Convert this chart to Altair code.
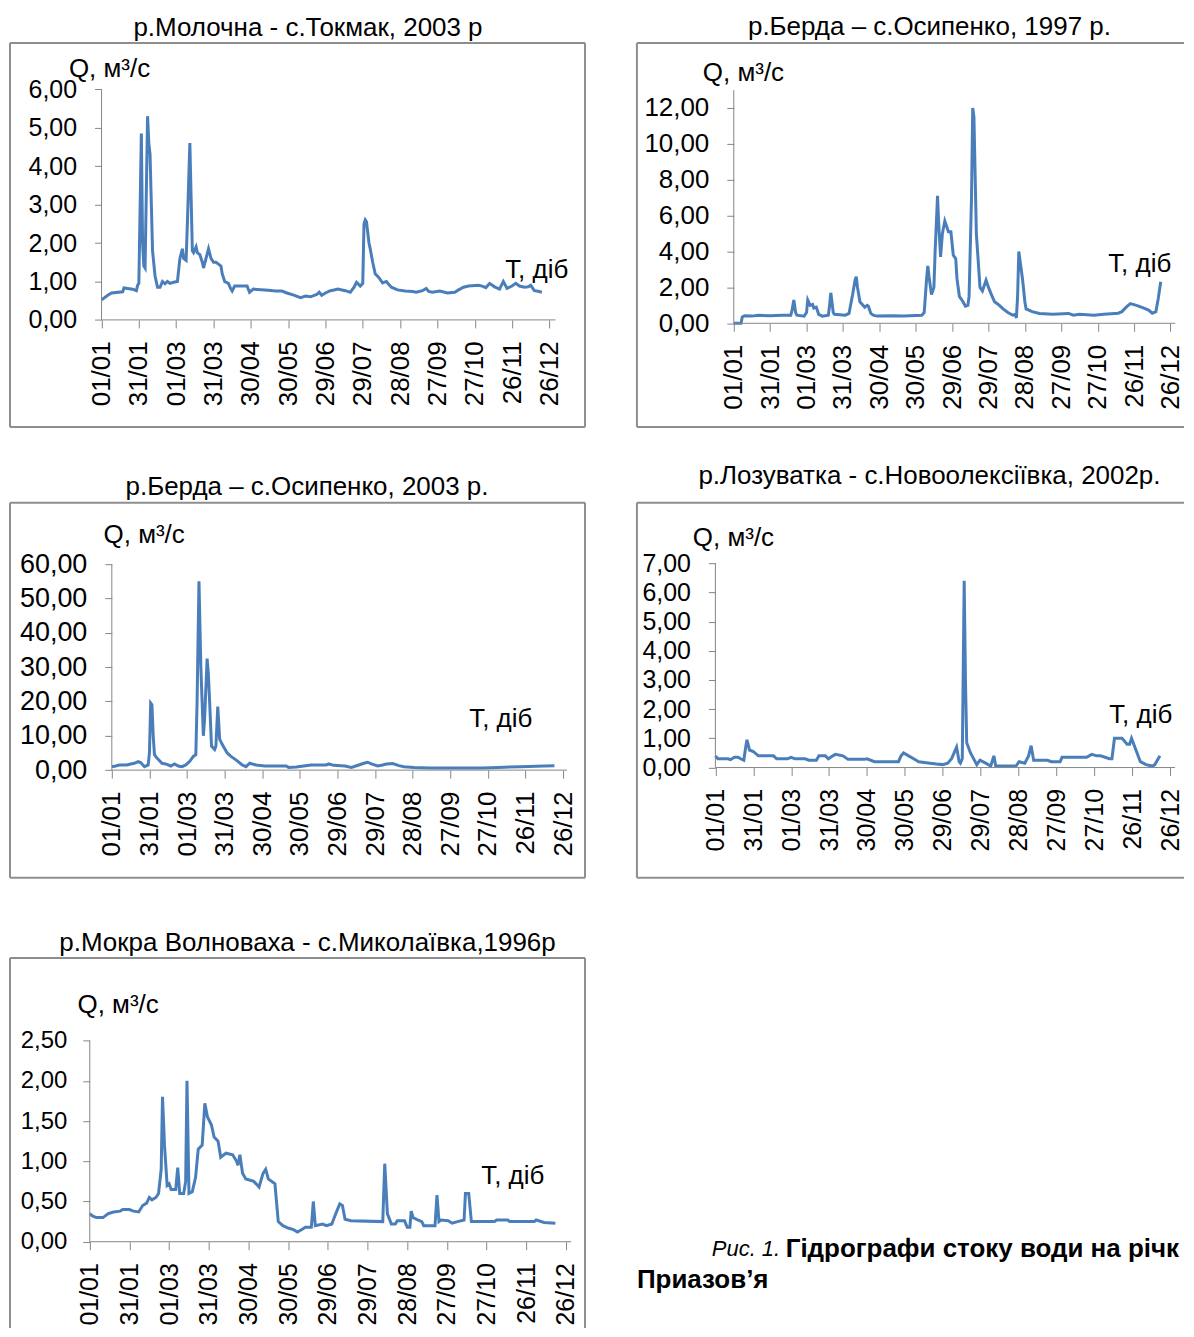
import json
import altair as alt
import pandas as pd

FONT = "Liberation Sans"
LINE_COLOR = "#4A7EBB"
AXIS_COLOR = "#868686"
FRAME_COLOR = "#8E8E8E"

# ---------------- data ----------------
DATE_LABELS = ["01/01", "31/01", "01/03", "31/03", "30/04", "30/05", "29/06",
               "29/07", "28/08", "27/09", "27/10", "26/11", "26/12"]
TICK_DAYS = [0, 30, 60, 90, 120, 150, 180, 210, 240, 270, 300, 330, 360]

# р.Молочна - с.Токмак, 2003
MOL_DAYS = [0, 5, 8, 17, 18, 25, 28, 29, 30, 32, 33, 34, 35, 37, 38, 39, 41, 43, 45, 47, 49, 51, 53, 55, 58, 61,
            63, 65, 66, 68, 69, 71, 72, 73, 74, 76, 77, 79, 81, 82, 84, 86, 88, 90, 92, 94, 96, 97, 99, 102, 104,
            105, 107, 117, 119, 122, 134, 140, 145, 149, 154, 160, 164, 168, 173, 175, 177, 180, 184, 187, 190,
            196, 200, 203, 205, 208, 210, 211, 212, 213, 215, 216, 218, 220, 223, 226, 229, 231, 233, 238, 244,
            250, 253, 258, 261, 263, 266, 272, 278, 284, 287, 291, 295, 303, 306, 309, 312, 316, 320, 323, 326,
            330, 333, 336, 340, 343, 345, 348, 350, 354]
MOL_Q = [0.52, 0.64, 0.70, 0.73, 0.83, 0.80, 0.76, 0.90, 0.95, 4.85, 2.0, 1.40, 1.35, 5.30, 4.6, 4.3, 1.8, 1.15,
         0.85, 0.85, 1.0, 0.94, 1.0, 0.95, 0.98, 1.0, 1.6, 1.85, 1.6, 1.55, 2.5, 4.6, 3.2, 1.8, 1.75, 1.9, 1.75,
         1.7, 1.5, 1.35, 1.6, 1.85, 1.6, 1.5, 1.5, 1.45, 1.4, 1.2, 1.0, 0.95, 0.8, 0.75, 0.88, 0.88, 0.72, 0.8,
         0.77, 0.75, 0.75, 0.7, 0.65, 0.58, 0.62, 0.60, 0.66, 0.72, 0.64, 0.70, 0.76, 0.78, 0.80, 0.76, 0.72,
         0.85, 0.98, 0.88, 0.95, 2.5, 2.6, 2.55, 2.0, 1.85, 1.5, 1.2, 1.1, 0.96, 1.0, 0.92, 0.85, 0.78, 0.75,
         0.74, 0.72, 0.76, 0.82, 0.74, 0.72, 0.75, 0.70, 0.72, 0.78, 0.85, 0.88, 0.9, 0.88, 0.84, 0.95, 0.86,
         0.80, 1.0, 0.82, 0.88, 0.95, 0.88, 0.85, 0.86, 0.9, 0.76, 0.75, 0.72]

# р.Берда – с.Осипенко, 1997
B97_DAYS = [0, 6, 7, 9, 15, 20, 30, 40, 47, 48, 49.5, 51, 52, 58, 60, 61, 63, 65, 66, 68, 70, 73, 78, 79, 80, 82,
            83, 92, 95, 98, 100, 101, 102, 104, 108, 110, 111, 113, 115, 118, 130, 140, 150, 155, 157, 159, 160,
            161, 163, 165, 166, 168, 169, 170.5, 172, 174, 175, 177, 179, 181, 183, 184, 186, 189, 191, 193, 194,
            196, 197, 198, 200, 201, 203, 205, 207, 208, 210, 213, 215, 219, 222, 226, 230, 232, 233, 234, 235,
            236, 238, 240, 241, 246, 252, 263, 276, 280, 285, 297, 305, 314, 317, 320, 324, 327, 332, 337, 342,
            345, 348, 350, 352]
B97_Q = [0.0, 0.0, 0.35, 0.42, 0.40, 0.45, 0.42, 0.45, 0.45, 0.7, 1.3, 0.6, 0.45, 0.40, 0.6, 1.3, 1.0, 1.05, 0.85,
         0.9, 0.5, 0.40, 0.45, 1.0, 1.7, 0.6, 0.5, 0.45, 0.55, 1.6, 2.4, 2.6, 2.0, 1.2, 0.9, 1.0, 0.95, 0.55, 0.45,
         0.40, 0.42, 0.40, 0.43, 0.45, 0.6, 2.5, 3.2, 2.6, 1.6, 2.0, 4.0, 7.1, 5.5, 3.7, 5.0, 5.7, 5.5, 5.1, 5.1,
         3.8, 3.6, 2.5, 1.5, 1.2, 0.95, 1.0, 1.5, 7.0, 12.0, 11.5, 5.0, 4.0, 2.0, 1.8, 2.2, 2.4, 2.0, 1.5, 1.2,
         1.0, 0.8, 0.6, 0.45, 0.5, 0.3, 1.5, 4.0, 3.5, 2.5, 1.2, 0.8, 0.65, 0.55, 0.5, 0.55, 0.45, 0.5, 0.45,
         0.5, 0.55, 0.56, 0.65, 0.93, 1.1, 1.0, 0.87, 0.74, 0.56, 0.65, 1.4, 2.32]

# р.Берда – с.Осипенко, 2003
B03_DAYS = [0, 3, 6, 12, 15, 18, 21, 23, 26, 29, 30, 31, 32, 33, 34, 36, 40, 43, 47, 50, 53, 56, 59, 62, 65, 67, 68,
            69.5, 71, 72, 73, 74, 76, 77, 78, 79.5, 82, 83, 84.5, 86, 88, 92, 95, 99, 104, 107, 110, 115, 122, 139,
            141, 147, 153, 159, 171, 173, 177, 186, 191, 197, 201, 204, 207, 212, 216, 219, 224, 229, 233, 241,
            253, 296, 308, 326, 345, 353]
B03_Q = [1.0, 1.2, 1.5, 1.5, 1.8, 2.0, 2.5, 2.2, 1.0, 1.5, 5.0, 19.5, 19.0, 10.0, 4.5, 3.5, 2.0, 1.8, 1.2, 1.8, 1.2,
         1.0, 1.5, 2.5, 4.0, 4.5, 20.0, 55.0, 30.0, 20.0, 10.0, 15.0, 32.5, 28.0, 20.0, 7.0, 6.0, 7.0, 18.5, 9.0,
         7.5, 5.0, 4.0, 3.0, 1.5, 1.0, 2.0, 1.5, 1.2, 1.2, 0.8, 0.9, 1.2, 1.5, 1.5, 1.8, 1.4, 1.2, 0.8, 1.5, 2.0,
         2.3, 1.8, 1.2, 1.5, 1.8, 1.9, 1.3, 1.0, 0.8, 0.6, 0.6, 0.8, 1.0, 1.2, 1.3]

# р.Лозуватка - с.Новоолексіївка, 2002
LOZ_DAYS = [0, 2, 10, 12, 15, 18, 20, 22.5, 24, 25, 27, 30, 34, 46, 48.5, 57, 60, 63, 71, 74, 80, 82, 87, 89.5, 93,
            95, 101, 105, 118, 120, 126, 145, 147, 149, 153, 157, 161, 170, 175, 180, 184, 187, 189, 191, 193, 194,
            195.5, 197, 198, 199, 202, 207, 209.5, 214, 218, 220.5, 222, 238, 240.5, 245, 248, 250, 252, 263, 266,
            273, 274.5, 294, 298, 302, 305, 312, 314, 316, 322, 326, 328, 329.5, 333, 336.5, 341, 346, 348, 352]
LOZ_Q = [0.4, 0.3, 0.3, 0.27, 0.35, 0.35, 0.3, 0.25, 0.7, 0.95, 0.6, 0.55, 0.4, 0.4, 0.3, 0.3, 0.35, 0.3, 0.3, 0.25,
         0.25, 0.4, 0.4, 0.3, 0.4, 0.45, 0.4, 0.28, 0.28, 0.3, 0.2, 0.2, 0.4, 0.5, 0.4, 0.3, 0.2, 0.15, 0.12, 0.1,
         0.15, 0.3, 0.5, 0.7, 0.2, 0.15, 0.3, 6.4, 3.0, 0.85, 0.5, 0.1, 0.25, 0.15, 0.05, 0.4, 0.05, 0.05, 0.2,
         0.15, 0.4, 0.75, 0.25, 0.25, 0.2, 0.2, 0.35, 0.35, 0.45, 0.4, 0.4, 0.3, 0.3, 1.0, 1.0, 0.8, 0.8, 1.0,
         0.6, 0.2, 0.1, 0.05, 0.1, 0.4]

# р.Мокра Волноваха - с.Миколаївка, 1996
MOK_DAYS = [0, 2, 5, 10, 14, 18, 23, 25, 30, 33, 37, 40, 43, 45, 47, 50, 52, 54, 55, 56.5, 58.5, 60, 61.5, 65, 66.5,
            68, 71, 72.5, 73.5, 75, 77.5, 80, 82, 85, 87, 89, 92, 94, 97, 99, 103, 108, 111, 112, 113.5, 115.5, 118,
            124, 128, 131, 133, 135, 140, 142.5, 146, 150, 154, 157, 160, 163, 167.5, 169, 170.5, 176, 179, 183,
            186, 189, 191, 193, 197.5, 221.5, 223, 225, 228, 231, 232.5, 238, 240, 242, 243, 244.5, 248, 251,
            252.5, 261, 262.5, 264, 265.5, 271, 274, 278, 283, 284, 286.5, 288.5, 306, 307.5, 316, 317.5, 336,
            337.5, 343.5, 352]
MOK_Q = [0.35, 0.32, 0.3, 0.3, 0.35, 0.37, 0.38, 0.4, 0.4, 0.38, 0.37, 0.45, 0.48, 0.55, 0.52, 0.55, 0.6, 0.9, 1.8,
         1.2, 0.7, 0.72, 0.65, 0.65, 0.92, 0.6, 0.6, 0.75, 2.0, 0.6, 0.62, 0.8, 1.15, 1.2, 1.72, 1.55, 1.45, 1.3,
         1.25, 1.05, 1.1, 1.08, 1.0, 0.95, 1.08, 0.85, 0.78, 0.75, 0.68, 0.85, 0.9, 0.78, 0.72, 0.25, 0.2, 0.17,
         0.15, 0.12, 0.15, 0.18, 0.18, 0.5, 0.2, 0.22, 0.2, 0.22, 0.35, 0.47, 0.45, 0.28, 0.26, 0.25, 0.97, 0.35,
         0.22, 0.22, 0.26, 0.26, 0.18, 0.18, 0.38, 0.3, 0.27, 0.25, 0.2, 0.2, 0.58, 0.25, 0.27, 0.26, 0.23, 0.25,
         0.27, 0.6, 0.6, 0.25, 0.25, 0.27, 0.27, 0.25, 0.25, 0.27, 0.24, 0.23]

TITLES = ["р.Молочна - с.Токмак, 2003 р",
          "р.Берда – с.Осипенко, 1997 р.",
          "р.Берда – с.Осипенко, 2003 р.",
          "р.Лозуватка - с.Новоолексіївка, 2002р.",
          "р.Мокра Волноваха - с.Миколаївка,1996р"]
Q_LABEL = "Q, м³/с"
T_LABEL = "Т, діб"
CAPTION_ITALIC = "Рис. 1."
CAPTION_BOLD = "Гідрографи стоку води на річк"
CAPTION_LINE2 = "Приазов’я"

# ---------------- layout (page pixel coordinates) ----------------
ONE = pd.DataFrame({"k": [0]})


def panel(days, q, title, g, anchor=False):
    vx, vy, W, H = g["vx"], g["vy"], g["W"], g["H"]
    x0 = g["ax"] - vx
    y0 = g["ay"] - vy
    ppd, ppu = g["ppd"], g["ppu"]
    xdom = [-x0 / ppd, (W - x0) / ppd]
    ydom = [(y0 - H) / ppu, y0 / ppu]
    df = pd.DataFrame({"d": days, "q": q})

    xaxis = alt.Axis(values=TICK_DAYS,
                     labelExpr=json.dumps(DATE_LABELS) + "[round(datum.value / 30)]",
                     labelAngle=270, labelFontSize=g["fx"], labelFont=FONT, labelColor="black",
                     tickColor=AXIS_COLOR, tickSize=8, tickWidth=1, domain=False, grid=False,
                     offset=y0 - H, labelPadding=13, title=None, labelOverlap=False, labelFlush=False)
    yaxis = alt.Axis(values=g["yvals"],
                     labelExpr="replace(format(datum.value, '.2f'), '.', ',')",
                     labelFontSize=g["fy"], labelFont=FONT, labelColor="black",
                     tickColor=AXIS_COLOR, tickSize=7, tickWidth=1, domain=False, grid=False,
                     offset=-x0, labelPadding=g.get("lp", 18), title=None, labelOverlap=False,
                     labelFlush=False)

    line = alt.Chart(df).mark_line(color=LINE_COLOR, strokeWidth=3).encode(
        x=alt.X("d:Q", scale=alt.Scale(domain=xdom, nice=False, zero=False), axis=xaxis),
        y=alt.Y("q:Q", scale=alt.Scale(domain=ydom, nice=False, zero=False), axis=yaxis),
    )
    xline = alt.Chart(ONE).mark_rule(color=AXIS_COLOR, strokeWidth=1).encode(
        x=alt.datum(0), x2=alt.datum(g["xend"]), y=alt.datum(0))
    yline = alt.Chart(ONE).mark_rule(color=AXIS_COLOR, strokeWidth=1).encode(
        x=alt.datum(0), y=alt.datum(0), y2=alt.datum(g["ymax"]))

    def txt(s, x, y, size, align="left"):
        return alt.Chart(ONE).mark_text(text=s, align=align, baseline="middle", fontSize=size,
                                        font=FONT, color="black").encode(
            x=alt.value(x - vx), y=alt.value(y - vy))

    def seg(a, b, c, d):
        return alt.Chart(ONE).mark_rule(color=FRAME_COLOR, strokeWidth=2).encode(
            x=alt.value(a - vx), y=alt.value(b - vy), x2=alt.value(c - vx), y2=alt.value(d - vy))

    layers = [seg(*s) for s in g["frame"]]
    layers += [line, xline, yline,
               txt(Q_LABEL, g["qx"], g["qy"], 26),
               txt(T_LABEL, g["tx"], g["ty"], 26),
               txt(title, g["cx"], g["cy"], 26, "center")]
    if anchor:
        layers.append(alt.Chart(ONE).mark_rect(opacity=0).encode(
            x=alt.value(-1), x2=alt.value(0), y=alt.value(-33), y2=alt.value(-32)))
    return alt.layer(*layers).properties(width=W, height=H)


def box(x0, y0, x1, y1):
    return [(x0, y0, x1, y0), (x1, y0, x1, y1), (x1, y1, x0, y1), (x0, y1, x0, y0)]


RMAX = 1185
BOT = 1328

G1 = dict(vx=9, vy=41, W=576, H=384, ax=100.7, ay=318.3, ppd=1.246, ppu=38.5, xend=365, ymax=6,
          yvals=[0, 1, 2, 3, 4, 5, 6], fy=25, fx=26, cx=307.5, cy=26, qx=68, qy=67, tx=505, ty=268,
          frame=box(9, 41, 585, 425.5))
G2 = dict(vx=637, vy=41, W=540, H=384, ax=734, ay=321.7, ppd=1.215, ppu=17.97, xend=364, ymax=13,
          yvals=[0, 2, 4, 6, 8, 10, 12], fy=26, fx=26, cx=930, cy=25, qx=703, qy=71, tx=1109, ty=262.5,
          frame=[(637, 41, RMAX, 41), (637, 41, 637, 425.5), (637, 425.5, RMAX, 425.5)])
G3 = dict(vx=9, vy=501, W=576, H=380, ax=111, ay=769.3, ppd=1.256, ppu=3.44, xend=363, ymax=60,
          yvals=[0, 10, 20, 30, 40, 50, 60], fy=27, fx=26, cx=306.5, cy=486, qx=102.7, qy=534, tx=469, ty=718,
          frame=box(9, 501.5, 585, 877))
G4 = dict(vx=637, vy=501, W=540, H=380, ax=715.6, ay=766.7, ppd=1.265, ppu=29.24, xend=364, ymax=7,
          yvals=[0, 1, 2, 3, 4, 5, 6, 7], fy=25, fx=25, cx=930, cy=475, qx=693, qy=537, tx=1110, ty=714,
          frame=[(637, 501.5, RMAX, 501.5), (637, 501.5, 637, 877), (637, 877, RMAX, 877)])
G5 = dict(vx=9, vy=957, W=576, H=371, ax=88.9, ay=1241.7, ppd=1.325, ppu=80.6, xend=364, ymax=2.5,
          yvals=[0, 0.5, 1, 1.5, 2, 2.5], fy=24, fx=25, cx=307, cy=942.5, qx=76.6, qy=1005, tx=481, ty=1176,
          lp=16, frame=[(9, 957.5, 585, 957.5), (9, 957.5, 9, BOT), (585, 957.5, 585, BOT)])

p1 = panel(MOL_DAYS, MOL_Q, TITLES[0], G1, anchor=True)
p2 = panel(B97_DAYS, B97_Q, TITLES[1], G2)
p3 = panel(B03_DAYS, B03_Q, TITLES[2], G3)
p4 = panel(LOZ_DAYS, LOZ_Q, TITLES[3], G4)
p5 = panel(MOK_DAYS, MOK_Q, TITLES[4], G5)

CVX, CVY = 637, 957
cap_it = alt.Chart(ONE).mark_text(text=CAPTION_ITALIC, align="left", baseline="middle", fontSize=22,
                                  font=FONT, fontStyle="italic", color="black").encode(
    x=alt.value(712 - CVX), y=alt.value(1249 - CVY))
cap_b = alt.Chart(ONE).mark_text(text=CAPTION_BOLD, align="left", baseline="middle", fontSize=26,
                                 font=FONT, fontWeight="bold", color="black").encode(
    x=alt.value(786 - CVX), y=alt.value(1249 - CVY))
cap_2 = alt.Chart(ONE).mark_text(text=CAPTION_LINE2, align="left", baseline="middle", fontSize=26,
                                 font=FONT, fontWeight="bold", color="black").encode(
    x=alt.value(637 - CVX), y=alt.value(1280 - CVY))
caption = alt.layer(cap_it, cap_b, cap_2).properties(width=540, height=371)

chart = alt.concat(p1, p2, p3, p4, p5, caption, columns=2,
                   spacing=alt.RowColnumber(row=76, column=52),
                   bounds="flush", align="each").properties(
    padding={"left": 0, "top": 0, "right": 0, "bottom": 0},
    background="white",
).configure_view(stroke="transparent")

chart.save("out.html", embed_options={"renderer": "svg", "actions": False})
